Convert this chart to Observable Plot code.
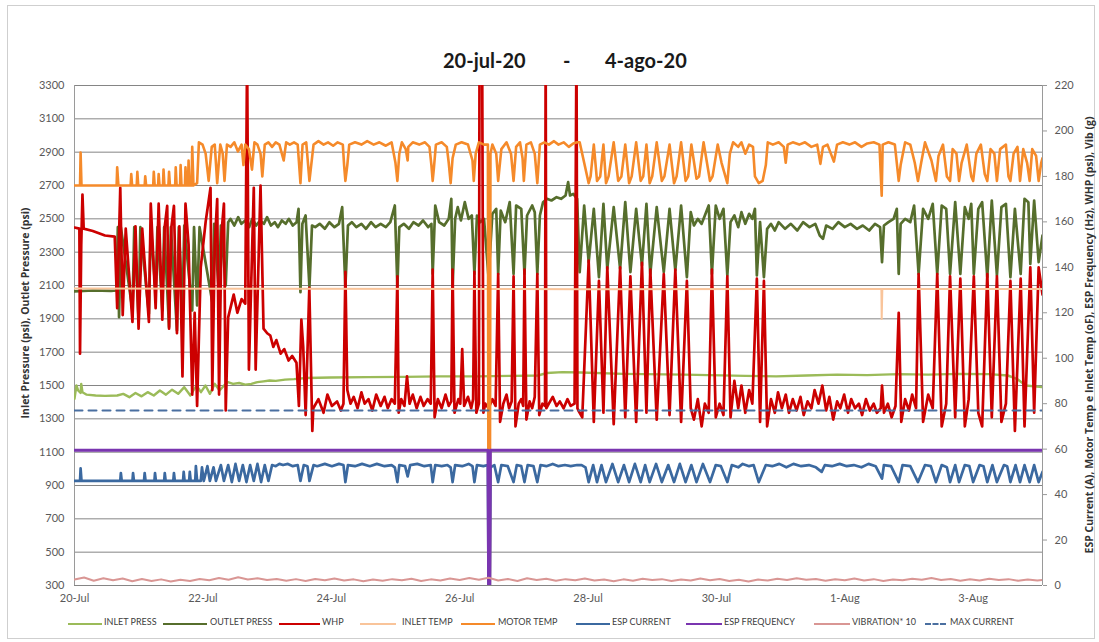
<!DOCTYPE html>
<html><head><meta charset="utf-8">
<script src="https://cdn.jsdelivr.net/npm/d3@7"></script>
<script src="https://cdn.jsdelivr.net/npm/@observablehq/plot@0.6"></script>
<style>
body{margin:0;background:#fff;}
#wrap{position:relative;width:1099px;height:642px;overflow:hidden;font-family:Lato,"Open Sans",sans-serif;background:#fff;}
#border{position:absolute;left:7px;top:5px;width:1086px;height:632px;border:1px solid #cfcfcf;}
.ttl{position:absolute;top:48px;font-weight:bold;font-size:20px;color:#1a1a1a;white-space:nowrap;}
#chart{position:absolute;left:0;top:70px;}
.ylab{position:absolute;font-family:"Open Sans",sans-serif;font-weight:bold;font-size:10.5px;color:#333;white-space:nowrap;transform:translate(-50%,-50%) rotate(-90deg);}
.lg{position:absolute;top:616px;height:14px;font-size:9px;color:#404040;white-space:nowrap;}
.lgl{position:absolute;top:623px;height:0;}
</style></head><body>
<div id="wrap">
  <div id="border"></div>
  <div class="ttl" style="left:443px">20-jul-20</div>
  <div class="ttl" style="left:563px">-</div>
  <div class="ttl" style="left:605px">4-ago-20</div>
  <div id="chart"></div>
  <div class="ylab" style="left:25px;top:313px">Inlet Pressure (psi), Outlet Pressure (psi)</div>
  <div class="ylab" style="left:1089px;top:335px">ESP Current (A), Motor Temp e Inlet Temp (oF), ESP Frequency (Hz), WHP (psi), Vib (g)</div>
</div>
<script>
// ---- data (time = days since 20-Jul-2020 00:00) ----
const leftTicks = [300,500,700,900,1100,1300,1500,1700,1900,2100,2300,2500,2700,2900,3100,3300];
const rightTicks = [0,20,40,60,80,100,120,140,160,180,200,220];
const xTicks = ["2020-07-20","2020-07-22","2020-07-24","2020-07-26","2020-07-28","2020-07-30","2020-08-01","2020-08-03"];
const legendNames = ["INLET PRESS","OUTLET PRESS","WHP","INLET TEMP","MOTOR TEMP","ESP CURRENT","ESP FREQUENCY","VIBRATION* 10","MAX CURRENT"];

// left axis (psi)
const inletPress = [[0,1420],[0.03,1500],[0.057,1470],[0.095,1455],[0.105,1510],[0.124,1460],[0.19,1445],[0.33,1440],[0.475,1438],[0.665,1440],[0.76,1450],[0.855,1430],[0.95,1455],[1.045,1435],[1.14,1460],[1.235,1440],[1.33,1470],[1.425,1445],[1.52,1475],[1.615,1450],[1.71,1490],[1.805,1440],[1.9,1500],[1.97,1460],[2.04,1500],[2.11,1450],[2.185,1510],[2.26,1470],[2.33,1500],[2.39,1520],[2.47,1510],[2.565,1515],[2.66,1505],[2.755,1510],[2.85,1520],[2.945,1525],[3.04,1530],[3.135,1528],[3.28,1535],[3.42,1538],[3.61,1545],[3.99,1548],[4.56,1550],[5.13,1552],[5.7,1555],[6.27,1555],[6.84,1558],[7.22,1560],[7.36,1575],[7.6,1580],[7.89,1578],[8.55,1570],[9.5,1565],[10.45,1558],[10.93,1555],[11.4,1560],[11.88,1565],[12.35,1562],[12.83,1568],[13.3,1565],[13.78,1570],[14.25,1568],[14.54,1560],[14.68,1540],[14.82,1500],[15.08,1490]];

const outletPress = [[0,2065],[0.285,2070],[0.57,2068],[0.655,2070],[0.675,2450],[0.694,1910],[0.722,2450],[0.903,1950],[0.931,2450],[0.998,1900],[1.026,2450],[1.159,1930],[1.188,2460],[1.264,2050],[1.292,2450],[1.368,1950],[1.397,2450],[1.473,1850],[1.501,2450],[1.596,1830],[1.625,2450],[1.682,1950],[1.71,2460],[1.834,1950],[1.862,2450],[1.91,1980],[1.948,2450],[2.147,2000],[2.176,2470],[2.252,2050],[2.28,2460],[2.356,2100],[2.394,2480],
[2.43,2500],[2.49,2460],[2.55,2510],[2.6,2470],[2.66,2490],[2.72,2450],[2.77,2500],[2.83,2460],[2.89,2490],[2.95,2470],[3.0,2510],[3.06,2460],[3.12,2480],[3.17,2450],[3.23,2490],[3.29,2470],[3.34,2500],[3.4,2460],[3.46,2480],[3.49,2560],[3.52,2060],[3.55,2470],[3.6,2520],[3.66,2090],[3.7,2460],[3.75,2450],[3.82,2470],[3.9,2440],[3.97,2480],[4.05,2450],[4.12,2470],[4.17,2570],[4.22,2090],[4.26,2460],[4.32,2480],[4.39,2450],[4.47,2470],[4.54,2440],[4.62,2480],[4.69,2450],[4.77,2470],[4.85,2450],[4.92,2480],[4.99,2580],[5.03,2090],[5.06,2450],[5.13,2470],[5.21,2440],[5.28,2480],[5.36,2460],[5.43,2490],[5.51,2450],[5.56,2470],[5.58,2170],[5.62,2580],[5.68,2480],[5.76,2460],[5.83,2500],[5.87,2620],[5.89,2090],[5.93,2500],[5.97,2570],[6.02,2490],[6.08,2600],[6.14,2500],[6.19,2520],[6.23,2170],[6.27,2520],[6.32,2480],[6.38,2500],[6.45,2150],[6.51,2530],[6.57,2560],[6.6,2170],[6.64,2550],[6.71,2480],[6.78,2600],[6.84,2170],[6.88,2580],[6.96,2560],[7.01,2170],[7.05,2520],[7.13,2580],[7.17,2540],[7.21,2170],[7.25,2520],[7.3,2600],[7.36,2620],[7.43,2610],[7.51,2630],[7.58,2620],[7.65,2640],[7.69,2720],[7.72,2640],[7.77,2650],[7.81,2630],[7.83,2620],
[7.87,2180],[7.94,2580],[8.01,2240],[8.09,2560],[8.17,2150],[8.24,2590],[8.3,2200],[8.4,2570],[8.5,2200],[8.58,2600],[8.66,2180],[8.75,2560],[8.84,2220],[8.91,2590],[8.97,2170],[9.07,2570],[9.18,2180],[9.27,2560],[9.36,2190],[9.45,2580],[9.54,2150],[9.6,2540],[9.65,2460],[9.71,2500],[9.77,2470],[9.82,2520],[9.88,2580],[9.93,2170],[9.99,2580],[10.05,2500],[10.11,2560],[10.17,2160],[10.22,2480],[10.28,2520],[10.34,2450],[10.39,2540],[10.45,2470],[10.51,2530],[10.56,2500],[10.6,2560],[10.63,2160],[10.68,2480],[10.74,2150],[10.79,2440],[10.85,2470],[10.91,2430],[10.97,2480],[11.07,2440],[11.16,2470],[11.26,2430],[11.35,2480],[11.45,2450],[11.54,2470],[11.61,2400],[11.66,2380],[11.71,2460],[11.81,2440],[11.9,2480],[12.0,2450],[12.09,2470],[12.19,2440],[12.28,2460],[12.38,2430],[12.47,2470],[12.55,2450],[12.58,2240],[12.61,2460],[12.68,2480],[12.76,2500],[12.81,2560],[12.84,2170],[12.87,2470],[12.94,2500],[13.02,2480],[13.08,2580],[13.15,2170],[13.22,2560],[13.3,2500],[13.37,2590],[13.44,2170],[13.51,2580],[13.58,2560],[13.64,2170],[13.72,2600],[13.8,2170],[13.87,2570],[13.93,2500],[13.97,2590],[14.01,2170],[14.08,2560],[14.14,2600],[14.22,2150],[14.29,2610],[14.37,2160],[14.44,2570],[14.51,2590],[14.58,2150],[14.65,2560],[14.74,2170],[14.8,2620],[14.86,2600],[14.89,2230],[14.95,2610],[15.02,2240],[15.08,2400]];

// right axis
const whp = [[0,157.5],[0.076,157],[0.086,102],[0.105,150],[0.124,172],[0.143,157],[0.285,156],[0.475,154],[0.627,153.5],[0.665,122],[0.713,175],[0.751,119],[0.798,157],[0.903,116],[0.95,158],[0.998,113],[1.055,157],[1.159,116],[1.188,168],[1.264,122],[1.311,168],[1.368,117],[1.406,158],[1.444,167],[1.473,113],[1.511,158],[1.549,167],[1.596,111],[1.634,158],[1.682,92],[1.729,168],[1.777,150],[1.834,84],[1.872,120],[1.91,79],[1.967,140],[2.043,160],[2.119,175],[2.147,86],[2.185,150],[2.223,170],[2.252,84],[2.29,155],[2.328,168],[2.356,77],[2.394,118],[2.48,128],[2.537,120],[2.603,126],[2.66,124],[2.689,235],[2.717,95],[2.793,175],[2.822,95],[2.898,176],[2.945,113],[3.002,111],[3.05,110],[3.097,105],[3.145,108],[3.211,102],[3.268,104],[3.335,99],[3.392,101],[3.458,98],[3.496,79],[3.534,117],[3.563,105],[3.601,75],[3.658,131],[3.705,68],
[3.72,78],[3.8,82],[3.88,76],[3.94,84],[4.01,79],[4.09,81],[4.15,77],[4.19,80],[4.22,138],[4.25,86],[4.3,80],[4.35,83],[4.41,78],[4.47,85],[4.52,80],[4.58,82],[4.64,77],[4.7,84],[4.77,79],[4.83,83],[4.88,78],[4.94,82],[4.99,80],[5.03,136],[5.05,76],[5.09,82],[5.14,79],[5.18,92],[5.22,80],[5.27,84],[5.33,78],[5.39,83],[5.44,79],[5.5,82],[5.55,80],[5.58,139],[5.61,74],[5.66,82],[5.72,78],[5.78,84],[5.83,79],[5.87,81],[5.89,139],[5.92,76],[5.98,82],[6.01,80],[6.04,104],[6.07,79],[6.13,83],[6.18,78],[6.21,82],[6.23,138],[6.26,76],[6.3,80],[6.31,240],[6.35,240],[6.37,76],[6.4,80],[6.45,78],[6.51,82],[6.56,79],[6.6,137],[6.63,72],[6.68,80],[6.73,84],[6.77,78],[6.81,81],[6.84,136],[6.87,70],[6.92,80],[6.96,82],[6.99,79],[7.01,139],[7.04,73],[7.09,81],[7.13,78],[7.17,83],[7.21,137],[7.24,75],[7.29,80],[7.33,79],[7.34,240],[7.35,78],[7.39,80],[7.45,83],[7.51,79],[7.56,81],[7.62,78],[7.68,82],[7.73,79],[7.79,80],[7.82,240],[7.835,78],
[7.85,77],[7.91,74],[8.01,143],[8.09,72],[8.17,134],[8.24,76],[8.3,140],[8.4,71],[8.5,140],[8.58,74],[8.66,136],[8.75,72],[8.84,142],[8.91,76],[8.97,139],[9.07,73],[9.18,137],[9.27,75],[9.36,139],[9.45,72],[9.54,134],[9.6,78],[9.65,73],[9.71,82],[9.77,70],[9.82,80],[9.88,76],[9.93,139],[9.99,74],[10.05,80],[10.11,75],[10.17,136],[10.22,74],[10.28,90],[10.34,78],[10.39,88],[10.45,76],[10.51,86],[10.56,80],[10.63,135],[10.68,72],[10.74,134],[10.79,70],[10.85,82],[10.91,76],[10.96,85],[11.02,78],[11.08,84],[11.13,76],[11.19,82],[11.25,77],[11.31,83],[11.36,75],[11.42,81],[11.48,78],[11.53,86],[11.59,80],[11.65,88],[11.71,77],[11.76,83],[11.82,73],[11.88,81],[11.93,78],[11.99,84],[12.05,76],[12.1,82],[12.16,78],[12.22,80],[12.27,75],[12.33,82],[12.39,77],[12.45,80],[12.5,76],[12.56,78],[12.58,88],[12.61,76],[12.67,80],[12.73,74],[12.79,79],[12.84,120],[12.88,72],[12.94,82],[13.0,77],[13.05,84],[13.11,78],[13.15,137],[13.22,72],[13.3,84],[13.37,78],[13.44,137],[13.51,70],[13.58,80],[13.64,136],[13.72,74],[13.8,135],[13.87,70],[13.93,82],[14.01,136],[14.08,76],[14.14,70],[14.22,137],[14.29,74],[14.37,136],[14.44,72],[14.51,80],[14.58,134],[14.65,68],[14.74,135],[14.8,70],[14.89,140],[14.95,76],[15.02,140],[15.08,128]];

const inletTemp = [[0,130.7],[3.0,130.6],[8.0,130.4],[12.57,130.5],[12.575,117.3],[12.585,130.5],[15.08,130.5]];

const motorTemp = [[0,176],[0.086,176],[0.095,190.5],[0.109,176],[0.656,176],[0.665,184],[0.684,176],[0.874,176],[0.884,181],[0.898,176],[0.969,176],[0.979,182],[0.993,176],[1.093,176],[1.102,180],[1.116,176],[1.226,176],[1.235,182],[1.249,176],[1.302,176],[1.311,181],[1.325,176],[1.378,176],[1.387,183],[1.401,176],[1.463,176],[1.473,182],[1.487,176],[1.568,176],[1.577,184],[1.591,176],[1.644,176],[1.653,185],[1.667,176],[1.72,176],[1.729,184],[1.743,176],[1.767,176],[1.777,187],[1.791,176],[1.824,176],[1.834,193],[1.853,176],[1.91,177],[1.938,195],[1.995,194],[2.043,190],[2.09,178],[2.138,193],[2.185,194],[2.223,177],[2.271,194],[2.309,190],[2.337,178],[2.375,194],[2.432,193],[2.489,195],[2.546,191],[2.603,194],[2.632,185],[2.66,194],[2.717,192],[2.765,183],[2.803,195],[2.85,194],[2.898,190],[2.926,180],[2.964,194],[3.021,195],[3.078,193],[3.135,195],[3.192,194],[3.259,187],[3.297,195],[3.354,194],[3.42,195],[3.477,194],[3.52,177],[3.553,194],[3.61,195],[3.66,178],[3.724,194],
[3.8,195.5],[3.88,194],[3.95,195],[4.03,193.5],[4.1,195],[4.18,194],[4.2,185],[4.22,178],[4.25,185],[4.28,194],[4.37,195],[4.47,194],[4.56,195.5],[4.66,194],[4.75,195],[4.85,193.5],[4.94,195],[5.0,186],[5.03,178],[5.06,190],[5.1,195],[5.16,192],[5.19,187],[5.2,193],[5.27,195],[5.37,194],[5.46,195],[5.53,193],[5.56,185],[5.58,178],[5.6,184],[5.63,194],[5.72,195],[5.8,193],[5.83,186],[5.86,177],[5.89,188],[5.94,194],[6.03,195],[6.13,194],[6.2,187],[6.22,178],[6.25,190],[6.3,195],[6.38,194],[6.44,194],[6.45,0],[6.47,0],[6.48,190],[6.51,194],[6.57,190],[6.6,178],[6.65,192],[6.73,195],[6.8,190],[6.84,178],[6.88,193],[6.94,195],[6.98,188],[7.0,178],[7.04,194],[7.11,195],[7.17,190],[7.21,177],[7.25,194],[7.32,195],[7.39,194],[7.47,195.5],[7.54,194],[7.62,195],[7.7,193],[7.77,194.5],[7.83,195],
[7.87,195],[7.94,186],[8.01,177],[8.04,180],[8.09,194],[8.14,178],[8.19,180],[8.24,194],[8.28,177],[8.32,180],[8.4,195],[8.47,178],[8.52,180],[8.58,194],[8.64,177],[8.68,180],[8.75,195],[8.82,178],[8.86,180],[8.91,194],[8.96,177],[9.0,180],[9.07,195],[9.15,178],[9.19,180],[9.27,194],[9.34,177],[9.38,180],[9.45,195],[9.52,178],[9.56,180],[9.61,194],[9.69,179],[9.73,180],[9.8,195],[9.9,178],[9.94,180],[10.02,194],[10.08,186],[10.17,177],[10.21,190],[10.26,195],[10.34,193],[10.39,195],[10.45,190],[10.51,194],[10.57,193],[10.6,180],[10.66,177],[10.72,178],[10.77,185],[10.8,195],[10.88,194],[10.97,195],[11.05,193],[11.08,186],[11.11,194],[11.19,195],[11.29,194],[11.38,195],[11.48,193],[11.57,194],[11.62,185.5],[11.66,193],[11.73,194],[11.83,186.5],[11.88,194],[11.97,195],[12.07,194],[12.16,195],[12.26,193],[12.35,194.5],[12.45,195],[12.54,194],[12.575,171.5],[12.59,194],[12.68,195],[12.78,194],[12.81,186],[12.84,178],[12.87,185],[12.94,195],[13.02,194],[13.09,186],[13.14,178],[13.19,186],[13.25,195],[13.35,187],[13.42,178],[13.46,189],[13.53,194],[13.59,180],[13.64,178],[13.68,192],[13.74,190],[13.78,178],[13.82,186],[13.9,194],[13.97,180],[14.0,178],[14.05,190],[14.12,194],[14.18,181],[14.22,178],[14.27,192],[14.33,190],[14.37,178],[14.42,192],[14.51,194],[14.55,180],[14.58,178],[14.63,190],[14.69,193],[14.73,178],[14.78,192],[14.84,186],[14.88,178],[14.92,192],[14.98,189],[15.02,178],[15.06,186],[15.08,188]];

const espCurrent = [[0,46],[0.086,46],[0.095,51.5],[0.109,46],[0.713,46],[0.722,49.5],[0.736,46],[0.903,46],[0.912,49.5],[0.926,46],[1.083,46],[1.093,49.5],[1.107,46],[1.245,46],[1.254,49.5],[1.268,46],[1.397,46],[1.406,49.5],[1.42,46],[1.539,46],[1.549,49.5],[1.563,46],[1.691,46],[1.701,50],[1.715,46],[1.786,46],[1.796,50],[1.81,46],[1.881,46],[1.891,52.5],[1.91,46],[1.967,46],[1.986,52],[2.014,46],[2.071,52.5],[2.109,46],[2.166,52],[2.204,46],[2.28,53],[2.328,46],[2.394,53],[2.451,45.5],[2.508,53.5],[2.565,46],[2.622,53],[2.679,45.5],[2.736,53],[2.793,46],[2.85,53.5],[2.907,45.5],[2.964,53],[3.021,46],[3.078,53],[3.135,52.5],[3.192,53.5],[3.249,53],[3.325,53.5],[3.401,52.5],[3.477,53],[3.52,46],[3.572,53],[3.629,52.5],[3.66,46],[3.724,53],
[3.78,52.5],[3.9,53.5],[4.01,52.5],[4.12,53.5],[4.19,53],[4.22,45.5],[4.26,53],[4.37,52.5],[4.48,53.5],[4.6,52.5],[4.71,53.5],[4.83,52.5],[4.94,53],[4.99,52],[5.03,45.5],[5.06,53],[5.15,52.5],[5.19,48],[5.23,53],[5.34,53.5],[5.45,52.5],[5.55,53],[5.58,45.5],[5.62,53],[5.72,52.5],[5.81,53],[5.86,52],[5.89,45.5],[5.93,53],[6.04,52.5],[6.14,53.5],[6.2,52.5],[6.23,45.5],[6.27,53],[6.37,52.5],[6.44,53],[6.45,0],[6.47,0],[6.48,52],[6.54,53],[6.6,45.5],[6.65,53],[6.75,52.5],[6.84,45.5],[6.89,53],[6.96,52.5],[7.01,45.5],[7.06,53],[7.15,52.5],[7.21,45.5],[7.26,53],[7.35,52.5],[7.45,53.5],[7.54,52.5],[7.64,53],[7.73,52.5],[7.83,53],
[7.9,53],[7.96,52],[8.01,45.5],[8.08,53],[8.14,45.5],[8.21,53],[8.28,45.5],[8.38,53.5],[8.47,45.5],[8.56,53],[8.64,45.5],[8.73,53.5],[8.82,45.5],[8.89,53],[8.96,45.5],[9.06,53.5],[9.15,45.5],[9.25,53],[9.34,45.5],[9.43,53.5],[9.52,45.5],[9.61,53],[9.69,45.5],[9.79,53.5],[9.9,45.5],[9.99,53],[10.07,52.5],[10.17,45.5],[10.24,53],[10.34,52],[10.41,53.5],[10.51,52.5],[10.58,53],[10.66,45.5],[10.77,53],[10.87,52.5],[10.98,53.5],[11.09,52],[11.2,53.5],[11.32,52.5],[11.44,53],[11.55,52],[11.64,50],[11.69,53],[11.8,52.5],[11.92,53.5],[12.03,52.5],[12.14,53],[12.26,52],[12.37,53.5],[12.48,52.5],[12.58,47],[12.61,53],[12.72,52.5],[12.84,45.5],[12.9,53],[13.02,52.5],[13.14,45.5],[13.25,53],[13.34,52.5],[13.42,45.5],[13.51,53],[13.59,52],[13.64,45.5],[13.72,53],[13.78,45.5],[13.87,53],[13.94,52.5],[14.0,45.5],[14.1,53],[14.16,52.5],[14.22,45.5],[14.3,53],[14.37,45.5],[14.48,53],[14.53,52.5],[14.58,45.5],[14.66,53],[14.73,45.5],[14.8,53],[14.88,45.5],[14.95,53],[15.02,45.5],[15.08,50]];

const espFreq = [[0,59.5],[6.44,59.5],[6.45,0],[6.47,0],[6.48,59.5],[15.08,59.5]];

const vibration10 = [[0,2.6],[0.15,3.5],[0.3,2.1],[0.45,3.2],[0.6,2.3],[0.75,3.1],[0.9,1.9],[1.05,2.9],[1.2,2.0],[1.35,2.7],[1.5,1.8],[1.65,2.5],[1.8,2.0],[1.95,2.9],[2.1,2.3],[2.25,3.3],[2.4,2.5],[2.55,3.6],[2.7,2.6],[2.85,3.2],[3.0,2.4],[3.15,2.9],[3.3,2.1],[3.45,2.8],[3.6,2.0],[3.75,2.9],[3.9,2.3],[4.05,3.1],[4.2,2.2],[4.35,2.7],[4.5,1.9],[4.65,2.6],[4.8,2.1],[4.95,2.8],[5.1,2.3],[5.25,3.0],[5.4,2.0],[5.55,2.7],[5.7,2.2],[5.85,3.1],[6.0,2.4],[6.15,3.3],[6.3,2.5],[6.45,3.4],[6.6,2.2],[6.75,2.9],[6.9,2.0],[7.05,3.2],[7.2,2.4],[7.35,3.0],[7.5,2.1],[7.65,2.8],[7.8,2.3],[7.95,3.1],[8.1,2.2],[8.25,2.6],[8.4,1.9],[8.55,2.7],[8.7,2.1],[8.85,3.0],[9.0,2.4],[9.15,2.8],[9.3,2.0],[9.45,2.6],[9.6,2.2],[9.75,3.1],[9.9,2.3],[10.05,2.9],[10.2,2.0],[10.35,2.5],[10.5,1.8],[10.65,2.6],[10.8,2.2],[10.95,3.0],[11.1,2.4],[11.25,3.2],[11.4,2.5],[11.55,2.9],[11.7,2.1],[11.85,2.7],[12.0,2.3],[12.15,3.1],[12.3,2.2],[12.45,2.8],[12.6,2.0],[12.75,2.6],[12.9,2.3],[13.05,3.0],[13.2,2.5],[13.35,3.3],[13.5,2.4],[13.65,2.9],[13.8,2.1],[13.95,2.7],[14.1,2.2],[14.25,3.0],[14.4,2.4],[14.55,2.8],[14.7,2.1],[14.85,2.6],[15.0,2.2],[15.08,2.5]];

const maxCurrent = [[0,77],[15.08,77]];

// ---- scales / helpers ----
const T0 = Date.UTC(2020, 6, 20);
const toDate = d => new Date(T0 + d * 864e5);
const END = 15.08;
const R2L = v => 300 + v * 3000 / 220;   // secondary (right) axis value -> primary position

const colors = ["#9bbb59","#566e2c","#cc0000","#f9c49a","#f58a2a","#3b69a0","#7a35b0","#d99694","#4a6fa0"];

function lineL(data, stroke, w) {
  return Plot.line(data, {x: d => toDate(d[0]), y: d => d[1], stroke, strokeWidth: w, clip: true, strokeLinejoin: "round"});
}
function lineR(data, stroke, w, extra = {}) {
  return Plot.line(data, {x: d => toDate(d[0]), y: d => R2L(d[1]), stroke, strokeWidth: w, clip: true, strokeLinejoin: "round", ...extra});
}

const chart = Plot.plot({
  width: 1099, height: 540,
  marginLeft: 74, marginRight: 57, marginTop: 15, marginBottom: 25,
  style: {fontFamily: "Lato, 'Open Sans', sans-serif", fontSize: "11px", color: "#595959", background: "transparent", overflow: "visible"},
  x: {type: "utc", domain: [toDate(0), toDate(END)]},
  y: {domain: [300, 3300]},
  marks: [
    Plot.ruleY(leftTicks, {stroke: "#858585", strokeWidth: 1}),
    Plot.ruleX([toDate(0), toDate(END)], {stroke: "#9a9a9a", strokeWidth: 1}),
    lineL(inletPress, colors[0], 2.4),
    lineL(outletPress, colors[1], 2.7),
    lineR(whp, colors[2], 2.7),
    lineR(inletTemp, colors[3], 2),
    lineR(motorTemp, colors[4], 2.6),
    lineR(espCurrent, colors[5], 2.7),
    lineR(espFreq, colors[6], 2.8),
    lineR(vibration10, colors[7], 2),
    lineR(maxCurrent, colors[8], 2, {strokeDasharray: "8,6"}),
    Plot.axisY(leftTicks, {anchor: "left", tickSize: 0, tickPadding: 10, label: null, tickFormat: d => String(d)}),
    Plot.axisY(rightTicks.map(R2L), {anchor: "right", tickSize: 4, tickPadding: 8, stroke: "#999",
      tickFormat: p => String(Math.round((p - 300) * 220 / 3000)), label: null}),
    Plot.axisX(xTicks.map(s => new Date(s)), {anchor: "bottom", tickSize: 0, tickPadding: 9,
      tickFormat: d3.utcFormat("%-d-%b"), label: null})
  ]
});
document.getElementById("chart").appendChild(chart);

// ---- legend ----
const legendLayout = [[68,102,104],[163,207,210],[279,320,322],[360,396,402],[461,495,498],[576,610,612],[686,722,724],[814,850,852],[925,946,950]];
const wrap = document.getElementById("wrap");
legendNames.forEach((name, i) => {
  const [x0, x1, tx] = legendLayout[i];
  const ln = document.createElement("div");
  ln.className = "lgl";
  ln.style.left = x0 + "px";
  ln.style.width = (x1 - x0) + "px";
  ln.style.borderTop = (i === 8 ? "2px dashed " : "2px solid ") + colors[i];
  wrap.appendChild(ln);
  const tx_ = document.createElement("div");
  tx_.className = "lg";
  tx_.style.left = tx + "px";
  tx_.textContent = name;
  wrap.appendChild(tx_);
});
</script>
</body></html>
